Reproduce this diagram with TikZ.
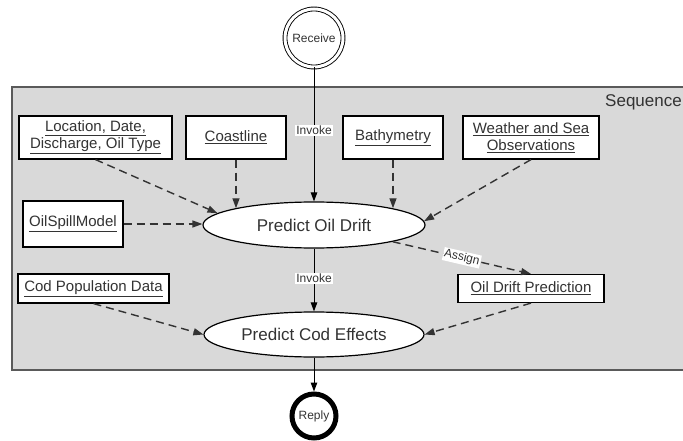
\documentclass[tikz,border=0pt]{standalone}
\usepackage{fontspec}
\setmainfont{Liberation Sans}
\usetikzlibrary{shapes.geometric,arrows.meta}
\definecolor{txt}{HTML}{333333}
\definecolor{seqfill}{HTML}{D9D9D9}
\definecolor{seqline}{HTML}{5A5A5A}
\begin{document}
\begin{tikzpicture}[x=1pt,y=-1pt,
 databox/.style={draw=black,line width=1.2pt,fill=white,text=txt,font=\fontsize{15}{17}\selectfont,align=center,inner sep=0pt},
 activity/.style={ellipse,draw=black,line width=1.2pt,fill=white,text=txt,font=\fontsize{17}{20}\selectfont,inner sep=0pt,minimum width=222pt,minimum height=46pt},
 dataflow/.style={draw=txt,line width=1.4pt,dash pattern=on 8pt off 5pt,-{Triangle[length=10pt,width=7pt]}},
 ctrlflow/.style={draw=black,line width=1pt,-{Triangle[length=9pt,width=6.5pt]}},
 edgelabel/.style={fill=white,text=txt,font=\fontsize{12}{13}\selectfont,inner sep=1pt}]
\useasboundingbox (0,0) rectangle (683,441);
% container
\draw[draw=seqline,fill=seqfill,line width=1.5pt] (12,87) rectangle (700,370);
\node[anchor=east,text=txt,font=\fontsize{17}{20}\selectfont,inner sep=0pt] (seqlabel) at (682,102) {Sequence};
% start / end
\node[circle,draw=black,double,double distance=3pt,line width=0.9pt,fill=white,minimum size=58pt,inner sep=0pt,text=txt,font=\fontsize{12}{13}\selectfont] (recv) at (314,38) {Receive};
\node[circle,draw=black,line width=5pt,fill=white,minimum size=44pt,inner sep=0pt,text=txt,font=\fontsize{12}{13}\selectfont] (reply) at (314,416) {Reply};
% data boxes
\node[databox,minimum width=153pt,minimum height=43pt] (loc) at (95.5,137.5) {\underline{Location, Date,}\\\underline{Discharge, Oil Type}};
\node[databox,minimum width=100pt,minimum height=43pt] (coast) at (236,137.5) {\underline{Coastline}};
\node[databox,minimum width=100pt,minimum height=43pt] (bath) at (393,137.5) {\underline{Bathymetry}};
\node[databox,minimum width=136pt,minimum height=43pt] (weather) at (531,137.5) {\underline{Weather and Sea}\\\underline{Observations}};
\node[databox,minimum width=100pt,minimum height=46pt] (osm) at (73,224) {\underline{OilSpillModel}};
\node[databox,minimum width=151pt,minimum height=29pt] (codpop) at (93.5,288.5) {\underline{Cod Population Data}};
\node[databox,minimum width=146pt,minimum height=28pt] (odp) at (531,288.5) {\underline{Oil Drift Prediction}};
% activities
\node[activity] (pod) at (314,225) {Predict Oil Drift};
\node[activity,minimum width=220pt,minimum height=45pt] (pce) at (314,334.5) {Predict Cod Effects};
% control flow
\draw[ctrlflow] (recv.south) -- node[edgelabel,pos=0.47]{Invoke} (pod.north);
\draw[ctrlflow] (pod.south) -- node[edgelabel,pos=0.47]{Invoke} (pce.north);
\draw[ctrlflow] (pce.south) -- (reply.north);
% data flow
\draw[dataflow] (loc.south) -- (pod.173);
\draw[dataflow] (coast.south) -- (coast.south |- pod.168);
\draw[dataflow] (bath.south) -- (bath.south |- pod.12);
\draw[dataflow] (weather.south) -- (pod.2);
\draw[dataflow] (osm.east) -- (osm.east -| pod.west);
\draw[dataflow] (pod.-12) -- node[edgelabel,sloped,pos=0.5]{Assign} (odp.north);
\draw[dataflow] (codpop.south) -- (pce.west);
\draw[dataflow] (odp.south) -- (pce.east);
\end{tikzpicture}
\end{document}
